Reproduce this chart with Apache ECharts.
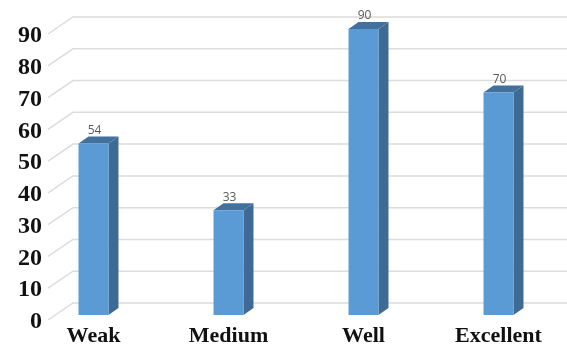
<!DOCTYPE html>
<html>
<head>
<meta charset="utf-8">
<script src="https://cdn.jsdelivr.net/npm/echarts@6/dist/echarts.min.js"></script>
<style>
    html, body { margin: 0; padding: 0; background: #fff; }
    #main { width: 567px; height: 347px; }
</style>
</head>
<body>
<div id="main"></div>
<script>
// data
var categories = ['Weak', 'Medium', 'Well', 'Excellent'];
var values = [54, 33, 90, 70];
var yTicks = [0, 10, 20, 30, 40, 50, 60, 70, 80, 90];

var chart = echarts.init(document.getElementById('main'));

// gridlines drawn as a "3d" back wall with a slanted floor edge
function renderGridLine(params, api) {
    var cs = params.coordSys;
    var y = api.coord([0, api.value(0)])[1];
    return {
        type: 'polyline',
        shape: {
            points: [[cs.x + 22, y + 5], [cs.x + 47, y - 12], [cs.x + cs.width + 2, y - 12]]
        },
        style: { stroke: '#dcdcdc', lineWidth: 1.5, fill: null }
    };
}

// 3d looking bar: front, side and top faces
function renderBar(params, api) {
    var top = api.coord([api.value(0), api.value(1)]);
    var bot = api.coord([api.value(0), 0]);
    var w = api.size([1, 0])[0] * 0.222;
    var x0 = top[0] - w / 2, x1 = top[0] + w / 2;
    var dx = 10, dy = 7;
    return {
        type: 'group',
        children: [
            {
                type: 'polygon',
                shape: { points: [[x1, top[1]], [x1 + dx, top[1] - dy], [x1 + dx, bot[1] - dy], [x1, bot[1]]] },
                style: { fill: '#3d6b96' }
            },
            {
                type: 'polygon',
                shape: { points: [[x0, top[1]], [x0 + dx, top[1] - dy], [x1 + dx, top[1] - dy], [x1, top[1]]] },
                style: { fill: '#41719c' }
            },
            {
                type: 'rect',
                shape: { x: x0, y: top[1], width: w, height: bot[1] - top[1] },
                style: { fill: '#5b9bd5' }
            },
            {
                type: 'text',
                x: top[0] + 1,
                y: top[1] - dy,
                style: {
                    text: String(api.value(1)),
                    fill: '#595959',
                    font: '12px "Open Sans"',
                    align: 'center',
                    verticalAlign: 'bottom'
                }
            }
        ]
    };
}

var option = {
    animation: false,
    grid: { left: 26, right: 1, top: 29, bottom: 30 },
    xAxis: {
        type: 'category',
        data: categories,
        axisLine: { show: false },
        axisTick: { show: false },
        axisLabel: {
            margin: 10,
            color: '#111',
            fontFamily: 'Liberation Serif',
            fontWeight: 'bold',
            fontSize: 22
        }
    },
    yAxis: {
        type: 'value',
        min: 0,
        max: 90,
        interval: 10,
        axisLine: { show: false },
        axisTick: { show: false },
        splitLine: { show: false },
        axisLabel: {
            margin: -16,
            verticalAlign: 'top',
            lineHeight: 14,
            color: '#111',
            fontFamily: 'Liberation Serif',
            fontWeight: 'bold',
            fontSize: 24
        }
    },
    series: [
        {
            type: 'custom',
            renderItem: renderGridLine,
            data: yTicks.map(function (t) { return [t]; }),
            encode: { y: 0 },
            clip: false,
            silent: true,
            z: 1
        },
        {
            type: 'custom',
            renderItem: renderBar,
            data: values.map(function (v, i) { return [i, v]; }),
            encode: { x: 0, y: 1 },
            clip: false,
            z: 2
        }
    ]
};

chart.setOption(option);
</script>
</body>
</html>
